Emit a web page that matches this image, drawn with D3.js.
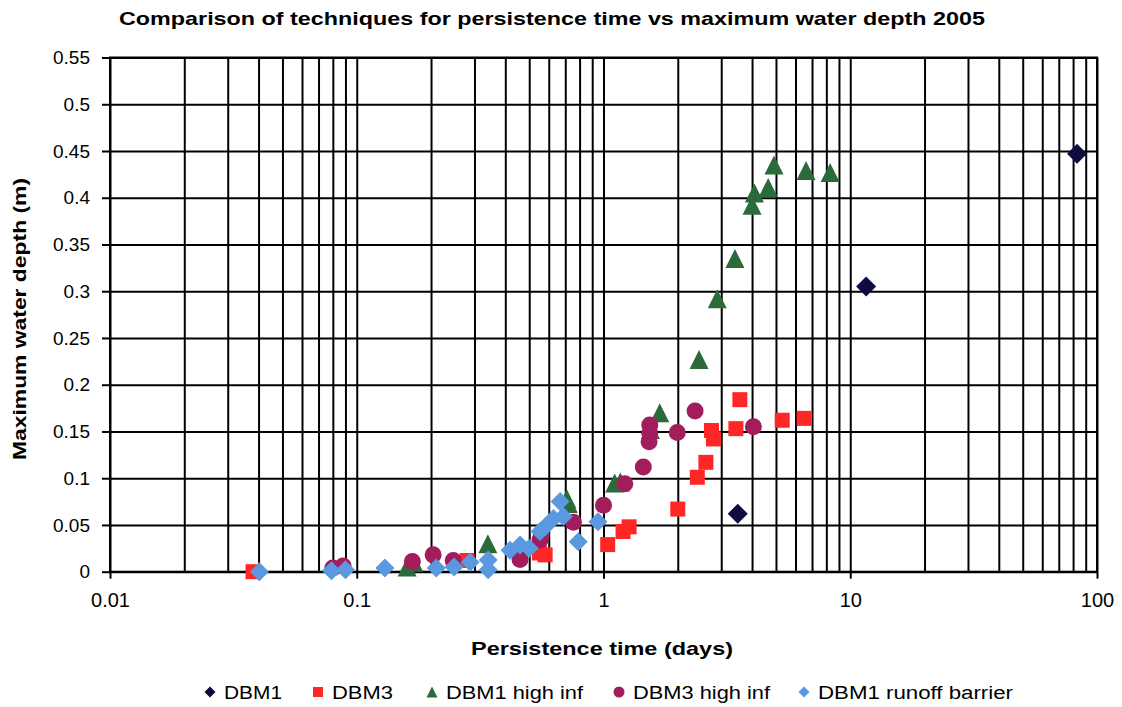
<!doctype html>
<html>
<head>
<meta charset="utf-8">
<script src="https://d3js.org/d3.v7.min.js"></script>
<style>
	body { margin: 0; background: #fff; }
	text { font-family: "Liberation Sans", Arial, sans-serif; fill: #000; }
</style>
</head>
<body>
<div id="chart"></div>
<script>
// persistence time (days) / maximum water depth (m)
const dbm1X = [3.5, 11.6, 83];
const dbm1Y = [0.062, 0.305, 0.447];

const dbm3X = [0.038, 0.28, 0.55, 0.58, 1.04, 1.2, 1.27, 2.0, 2.4, 2.6, 2.74, 2.79, 3.44, 3.57, 5.3, 6.5];
const dbm3Y = [0.0, 0.012, 0.02, 0.018, 0.029, 0.043, 0.048, 0.067, 0.101, 0.117, 0.151, 0.142, 0.153, 0.184, 0.162, 0.164];

const dbm1HiX = [0.16, 0.17, 0.34, 0.71, 0.72, 1.11, 1.17, 1.55, 1.69, 2.44, 2.89, 3.41, 4.0, 4.09, 4.65, 4.91, 6.62, 8.29];
const dbm1HiY = [0.005, 0.01, 0.03, 0.078, 0.073, 0.095, 0.096, 0.152, 0.17, 0.227, 0.292, 0.335, 0.392, 0.405, 0.411, 0.435, 0.429, 0.427];

const dbm3HiX = [0.08, 0.088, 0.168, 0.204, 0.246, 0.459, 0.553, 0.56, 0.755, 1.0, 1.22, 1.45, 1.53, 1.54, 1.54, 1.99, 2.35, 4.05];
const dbm3HiY = [0.004, 0.006, 0.011, 0.018, 0.012, 0.013, 0.034, 0.04, 0.053, 0.071, 0.094, 0.112, 0.139, 0.148, 0.157, 0.149, 0.172, 0.155];

const barrierX = [0.0403, 0.079, 0.09, 0.13, 0.21, 0.248, 0.288, 0.341, 0.341, 0.418, 0.459, 0.5, 0.553, 0.58, 0.627, 0.667, 0.687, 0.79, 0.95];
const barrierY = [0.0, 0.001, 0.002, 0.004, 0.004, 0.005, 0.01, 0.002, 0.0125, 0.023, 0.0286, 0.025, 0.043, 0.048, 0.057, 0.075, 0.059, 0.032, 0.0535];

const yTicks = [0, 0.05, 0.1, 0.15, 0.2, 0.25, 0.3, 0.35, 0.4, 0.45, 0.5, 0.55];
const xTicks = [0.01, 0.1, 1, 10, 100];

const seriesNames = ["DBM1", "DBM3", "DBM1 high inf", "DBM3 high inf", "DBM1 runoff barrier"];

// build series table for drawing (size = marker width in px)
const series = [
	{ name: seriesNames[0], xs: dbm1X, ys: dbm1Y, color: "#0c0c3e", shape: "diamond", size: 20 },
	{ name: seriesNames[1], xs: dbm3X, ys: dbm3Y, color: "#ff2626", shape: "square", size: 15 },
	{ name: seriesNames[2], xs: dbm1HiX, ys: dbm1HiY, color: "#2b6b3b", shape: "triangle", size: 19 },
	{ name: seriesNames[3], xs: dbm3HiX, ys: dbm3HiY, color: "#a11d5c", shape: "circle", size: 17 },
	{ name: seriesNames[4], xs: barrierX, ys: barrierY, color: "#5a99e0", shape: "diamond", size: 19 }
];

const width = 1122, height = 707;
const plot = { left: 110, right: 1097, top: 57.5, bottom: 571.7 };

const svg = d3.select("#chart").append("svg")
	.attr("width", width)
	.attr("height", height);

const x = d3.scaleLog().domain([0.01, 100]).range([plot.left, plot.right]);
const y = d3.scaleLinear().domain([0, 0.55]).range([plot.bottom, plot.top]);

// marker outline of width w, centred on 0,0
function symbolPath(shape, w) {
	const h = w / 2;
	if (shape === "diamond") return "M0," + (-h) + "L" + h + ",0L0," + h + "L" + (-h) + ",0Z";
	if (shape === "square") return "M" + (-h) + "," + (-h) + "h" + w + "v" + w + "h" + (-w) + "Z";
	if (shape === "triangle") return "M0," + (-h) + "L" + h + "," + h + "L" + (-h) + "," + h + "Z";
	return d3.symbol().type(d3.symbolCircle).size(Math.PI * h * h)();
}

// vertical gridlines (log minor + major)
const gx = svg.append("g")
	.attr("transform", "translate(0," + plot.bottom + ")")
	.call(d3.axisBottom(x).ticks(10).tickSize(-(plot.bottom - plot.top)).tickFormat(""));
gx.selectAll(".tick line").attr("stroke", "#000").attr("stroke-width", 2);
gx.select(".domain").remove();

// horizontal gridlines
const gy = svg.append("g")
	.attr("transform", "translate(" + plot.left + ",0)")
	.call(d3.axisLeft(y).tickValues(yTicks).tickSize(-(plot.right - plot.left)).tickFormat(""));
gy.selectAll(".tick line").attr("stroke", "#000").attr("stroke-width", 2);
gy.select(".domain").remove();

svg.append("rect")
	.attr("x", plot.left).attr("y", plot.top)
	.attr("width", plot.right - plot.left).attr("height", plot.bottom - plot.top)
	.attr("fill", "none").attr("stroke", "#000").attr("stroke-width", 2);

// x axis labels and small ticks
const xAxis = svg.append("g")
	.attr("transform", "translate(0," + plot.bottom + ")")
	.call(d3.axisBottom(x).tickValues(xTicks).tickSize(7).tickPadding(14).tickFormat(d => d3.format("")(d)));
xAxis.select(".domain").remove();
xAxis.selectAll(".tick line").attr("stroke", "#000").attr("stroke-width", 2);
xAxis.selectAll("text").attr("font-size", 20).attr("fill", "#000");

// y axis labels
const yAxis = svg.append("g")
	.attr("transform", "translate(" + plot.left + ",0)")
	.call(d3.axisLeft(y).tickValues(yTicks).tickSize(8).tickPadding(12).tickFormat(d => d3.format("")(+d.toFixed(2))));
yAxis.select(".domain").remove();
yAxis.selectAll(".tick line").attr("stroke", "#000").attr("stroke-width", 2);
yAxis.selectAll("text").attr("font-size", 19).attr("fill", "#000");

// markers
series.forEach(function (s) {
	const d = s.xs.map((v, i) => [v, s.ys[i]]);
	svg.append("g").selectAll("path")
		.data(d)
		.enter().append("path")
		.attr("d", symbolPath(s.shape, s.size))
		.attr("transform", p => "translate(" + x(p[0]) + "," + y(p[1]) + ")")
		.attr("fill", s.color);
});

// titles
svg.append("text")
	.attr("x", 552).attr("y", 25)
	.attr("text-anchor", "middle")
	.attr("font-size", 19).attr("font-weight", "bold")
	.attr("textLength", 866).attr("lengthAdjust", "spacingAndGlyphs")
	.text("Comparison of techniques for persistence time vs maximum water depth 2005");

svg.append("text")
	.attr("x", 602).attr("y", 655)
	.attr("text-anchor", "middle")
	.attr("font-size", 19).attr("font-weight", "bold")
	.attr("textLength", 262).attr("lengthAdjust", "spacingAndGlyphs")
	.text("Persistence time (days)");

svg.append("text")
	.attr("transform", "translate(26,319) rotate(-90)")
	.attr("text-anchor", "middle")
	.attr("font-size", 18).attr("font-weight", "bold")
	.attr("textLength", 282).attr("lengthAdjust", "spacingAndGlyphs")
	.text("Maximum water depth (m)");

// legend
const legendX = [210, 318, 432, 619, 804];
const legendW = [58, 61, 137, 137, 195];
const legend = svg.append("g");
series.forEach(function (s, i) {
	legend.append("path")
		.attr("d", symbolPath(s.shape, s.shape === "square" ? 10 : 11))
		.attr("transform", "translate(" + legendX[i] + ",692)")
		.attr("fill", s.color);
	legend.append("text")
		.attr("x", legendX[i] + 14).attr("y", 699)
		.attr("font-size", 18)
		.attr("textLength", legendW[i]).attr("lengthAdjust", "spacingAndGlyphs")
		.text(s.name);
});
</script>
</body>
</html>
